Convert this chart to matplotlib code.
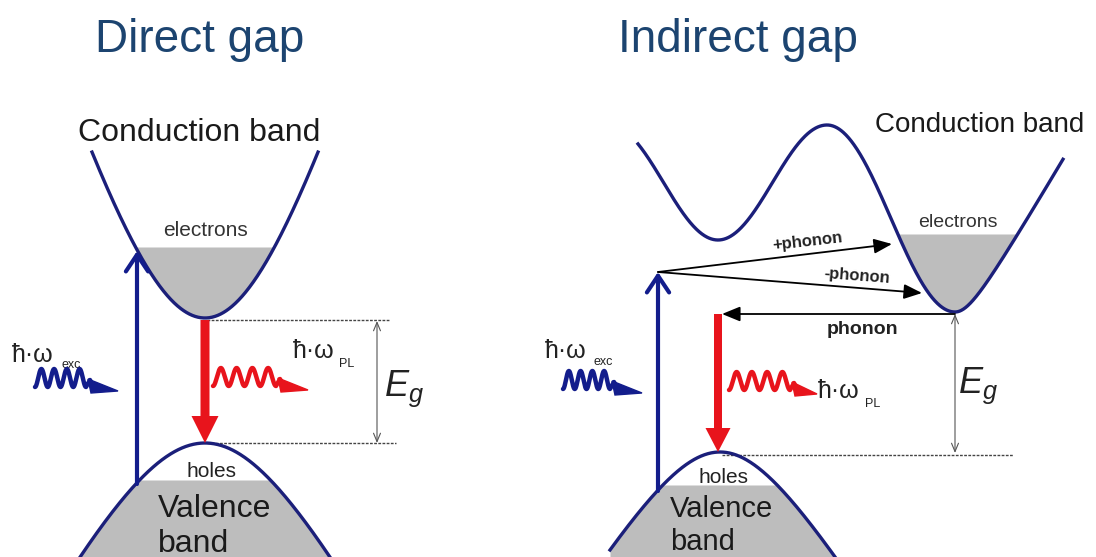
import numpy as np
import matplotlib
matplotlib.use("Agg")
import matplotlib.pyplot as plt
from matplotlib.patches import Polygon, FancyArrowPatch

plt.rcParams['font.family'] = ['Liberation Sans', 'DejaVu Sans']
plt.rcParams['mathtext.fontset'] = 'custom'
plt.rcParams['mathtext.it'] = 'Liberation Sans:italic'
plt.rcParams['mathtext.rm'] = 'Liberation Sans'

W, H = 1096, 557

BAND = '#1b1f7a'
FILL = '#bdbdbd'
PUMP = '#131d8c'
EMIT = '#e8141c'
TITLE = '#1c4470'
GUIDE = '#444444'

titles = ['Direct gap', 'Indirect gap']
title_x = [200, 738]

# Direct gap: band extrema (x, y) in canvas pixels, y pointing down
direct_cb_min = (205, 318)
direct_vb_max = (205, 443)
direct_cb_shape = (326, 100)      # hyperbola depth, width
direct_vb_shape = (190, 100)
direct_cb_span = (92, 318)
direct_vb_span = (80, 330)
direct_electron_level = 247
direct_hole_level = 480

# Indirect gap
indirect_vb_max = (720, 452)
indirect_vb_shape = (113.6, 70)
indirect_vb_span = (610, 837)
indirect_hole_level = 485
indirect_cb_left_min = (718, 240)
indirect_cb_peak = (827, 125)
indirect_cb_min = (955, 312)
indirect_cb_span = (638, 1063)
indirect_electron_level = 234


def hyper(x, x0, y0, a, b, sign):
    return y0 + sign * a * (np.sqrt(1 + ((x - x0) / b) ** 2) - 1)


def indirect_cb(x):
    lx, ly = indirect_cb_left_min
    px, py = indirect_cb_peak
    mx, my = indirect_cb_min
    y = np.empty_like(x)
    s1 = x <= px
    s2 = (x > px) & (x <= mx)
    s3 = x > mx
    y[s1] = (ly + py) / 2 + (ly - py) / 2 * np.cos(np.pi * (x[s1] - lx) / (px - lx))
    y[s2] = (py + my) / 2 - (my - py) / 2 * np.cos(np.pi * (x[s2] - px) / (mx - px))
    y[s3] = hyper(x[s3], mx, my, 34, 20, -1)
    return y


def photon(ax, x0, x1, yc, amp, ncyc, head, color):
    t = np.linspace(0, 1, 300)
    xs = x0 + (x1 - x0) * t
    ys = yc + amp * np.cos(2 * np.pi * ncyc * t)
    xs = np.append(xs, [x1 + 4, x1 + 6])
    ys = np.append(ys, [yc + 2, yc + 6])
    ax.plot(xs, ys, color=color, lw=3.2, solid_capstyle='round',
            solid_joinstyle='round', zorder=4)
    tri = Polygon([(x1 + 2, yc + 1), (x1 + head, yc + 13), (x1 + 5, yc + 15)],
                  closed=True, color=color, zorder=4)
    ax.add_patch(tri)


def hbar_label(ax, x, y, sub, subdx, subdy):
    ax.text(x, y, 'ħ·ω', fontsize=18, color='#222222', va='baseline', ha='left')
    ax.text(x + subdx, y + subdy, sub, fontsize=9, color='#222222',
            va='baseline', ha='left')


def arrow(ax, p0, p1, style, lw, color, z=5):
    ax.add_patch(FancyArrowPatch(p0, p1, arrowstyle=style, lw=lw, color=color,
                                 shrinkA=0, shrinkB=0, mutation_scale=1,
                                 zorder=z))


fig = plt.figure(figsize=(W / 100, H / 100), dpi=100)
ax = fig.add_axes([0, 0, 1, 1])
ax.set_xlim(0, W)
ax.set_ylim(H, 0)
ax.axis('off')

for t, x in zip(titles, title_x):
    ax.text(x, 52, t, fontsize=33, color=TITLE, ha='center', va='baseline')

# ---------------- Direct gap ----------------
x = np.linspace(*direct_cb_span, 400)
y = hyper(x, *direct_cb_min, *direct_cb_shape, -1)
ax.fill_between(x, y, direct_electron_level, where=y >= direct_electron_level,
                color=FILL, lw=0, zorder=1)
ax.plot(x, y, color=BAND, lw=2.4, zorder=3)

x = np.linspace(*direct_vb_span, 400)
y = hyper(x, *direct_vb_max, *direct_vb_shape, 1)
ax.fill_between(x, np.maximum(y, direct_hole_level), H + 5, color=FILL, lw=0,
                zorder=1)
ax.plot(x, y, color=BAND, lw=2.4, zorder=3)

ax.text(199, 141, 'Conduction band', fontsize=23, ha='center', va='baseline',
        color='#1a1a1a')
ax.text(205, 236, 'electrons', fontsize=15, ha='center', va='baseline',
        color='#333333')
ax.text(212, 477, 'holes', fontsize=15, ha='center', va='baseline',
        color='#222222')
ax.text(158, 517, 'Valence', fontsize=23, ha='left', va='baseline',
        color='#1a1a1a')
ax.text(158, 552, 'band', fontsize=23, ha='left', va='baseline',
        color='#1a1a1a')

# excitation
arrow(ax, (137, 484), (137, 251), '->,head_length=12,head_width=8', 3, PUMP)
# recombination
ax.arrow(205, 320, 0, direct_vb_max[1] - 320, width=9, head_width=27,
         head_length=27, length_includes_head=True, color=EMIT, lw=0,
         zorder=4)

ax.plot([207, 390], [320, 320], ls=(0, (2, 1)), lw=1, color=GUIDE, zorder=2)
ax.plot([207, 396], [443, 443], ls=(0, (2, 1)), lw=1, color=GUIDE, zorder=2)
arrow(ax, (377, 321), (377, 443), '<->,head_length=6,head_width=2.5', 0.8,
      '#555555')
ax.text(384, 396, r'$E_g$', fontsize=26, color='#222222', va='baseline')

photon(ax, 35, 86, 378, 9, 4, 32, PUMP)
hbar_label(ax, 12, 362, 'exc', 50, 6)
photon(ax, 213, 276, 377, 9, 4, 32, EMIT)
hbar_label(ax, 293, 358, 'PL', 46, 9)

# ---------------- Indirect gap ----------------
x = np.linspace(*indirect_cb_span, 800)
y = indirect_cb(x)
sel = (x > 860) & (x < 1040)
ax.fill_between(x[sel], y[sel], indirect_electron_level,
                where=y[sel] >= indirect_electron_level, color=FILL, lw=0,
                zorder=1)
ax.plot(x, y, color=BAND, lw=2.4, zorder=3)

x = np.linspace(*indirect_vb_span, 400)
y = hyper(x, *indirect_vb_max, *indirect_vb_shape, 1)
ax.fill_between(x, np.maximum(y, indirect_hole_level), H + 5, color=FILL,
                lw=0, zorder=1)
ax.plot(x, y, color=BAND, lw=2.4, zorder=3)

ax.text(980, 132, 'Conduction band', fontsize=20, ha='center', va='baseline',
        color='#1a1a1a')
ax.text(958, 227, 'electrons', fontsize=14, ha='center', va='baseline',
        color='#333333')
ax.text(724, 483, 'holes', fontsize=15, ha='center', va='baseline',
        color='#222222')
ax.text(670, 517, 'Valence', fontsize=21, ha='left', va='baseline',
        color='#1a1a1a')
ax.text(670, 550, 'band', fontsize=21, ha='left', va='baseline',
        color='#1a1a1a')

arrow(ax, (658, 491), (658, 272), '->,head_length=12,head_width=8', 3, PUMP)
arrow(ax, (658, 272), (892, 244), '-|>,head_length=11,head_width=4.5', 1.3,
      'black')
arrow(ax, (658, 272), (922, 293), '-|>,head_length=11,head_width=4.5', 1.3,
      'black')
arrow(ax, (955, 314), (722, 314), '-|>,head_length=11,head_width=4.5', 1.3,
      'black')
ax.text(808, 246, '+phonon', fontsize=12, fontweight='bold', ha='center',
        va='baseline', rotation=6.5, rotation_mode='anchor', color='#222222')
ax.text(857, 280, '-phonon', fontsize=12, fontweight='bold', ha='center',
        va='baseline', rotation=-4.3, rotation_mode='anchor', color='#222222')
ax.text(863, 334, 'phonon', fontsize=14, fontweight='bold', ha='center',
        va='baseline', color='#222222')

ax.arrow(718, 314, 0, indirect_vb_max[1] - 314, width=8, head_width=25,
         head_length=24, length_includes_head=True, color=EMIT, lw=0,
         zorder=4)

ax.plot([722, 1013], [455, 455], ls=(0, (2, 1)), lw=1, color=GUIDE, zorder=2)
arrow(ax, (955, 314), (955, 453), '<->,head_length=6,head_width=2.5', 0.8,
      '#555555')
ax.text(958, 393, r'$E_g$', fontsize=26, color='#222222', va='baseline')

photon(ax, 563, 610, 380, 9, 4, 32, PUMP)
hbar_label(ax, 545, 358, 'exc', 48, 7)
photon(ax, 729, 790, 381, 9, 4, 27, EMIT)
hbar_label(ax, 818, 398, 'PL', 47, 9)

fig.savefig('out.png', dpi=100, facecolor='white')
